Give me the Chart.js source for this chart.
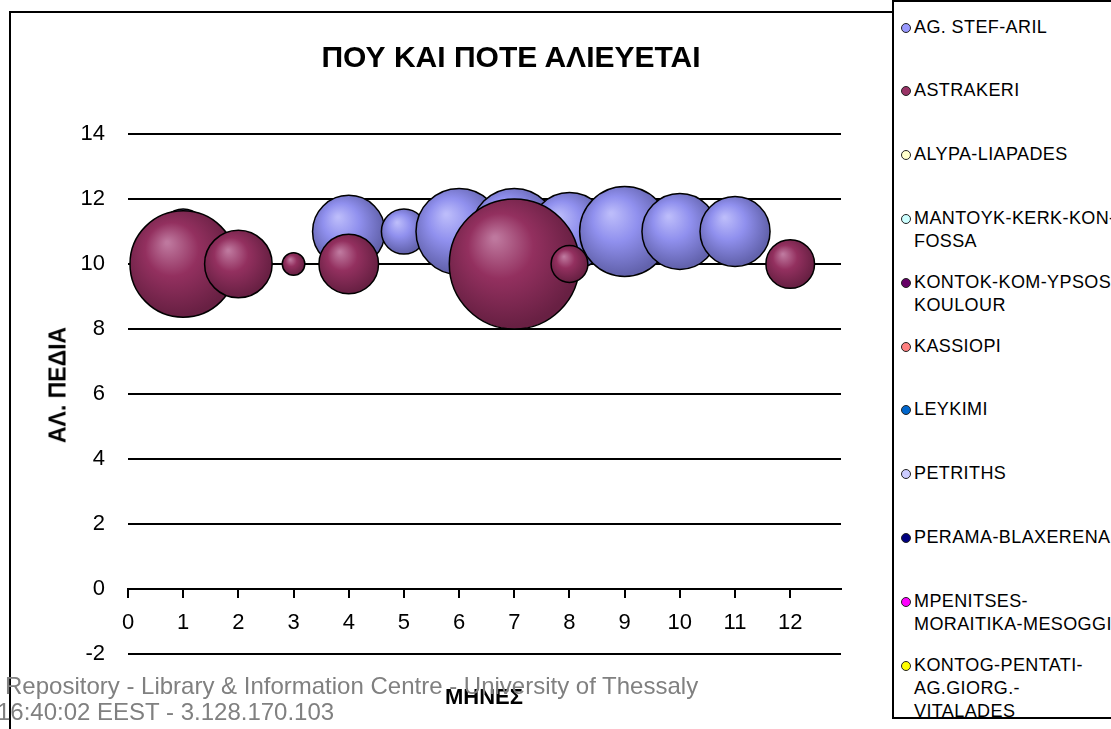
<!DOCTYPE html>
<html lang="el">
<head>
  <meta charset="UTF-8">
  <title>ΠΟΥ ΚΑΙ ΠΟΤΕ ΑΛΙΕΥΕΤΑΙ</title>
  <script src="https://cdn.jsdelivr.net/npm/chart.js"></script>
  <style>
    * {
      box-sizing: border-box;
    }

    body {
      margin: 0;
      width: 1111px;
      height: 729px;
      overflow: hidden;
      position: relative;
      background: #fff;
      font-family: 'Liberation Sans', Arial, sans-serif;
      color: #000;
    }

    #chart {
      position: absolute;
      left: 0;
      top: 0;
    }

    .frame {
      position: absolute;
      left: 9px;
      top: 11px;
      width: 900px;
      height: 740px;
      border-left: 2px solid #000;
      border-top: 2px solid #000;
    }

    .title {
      position: absolute;
      left: 0;
      width: 1022px;
      top: 40px;
      line-height: 34px;
      text-align: center;
      font-weight: bold;
      font-size: 30px;
      white-space: nowrap;
    }

    .y-title {
      position: absolute;
      left: 58px;
      top: 385px;
      transform: translate(-50%, -50%) rotate(-90deg);
      font-weight: bold;
      font-size: 23px;
      white-space: nowrap;
    }

    .x-title {
      position: absolute;
      left: 484px;
      top: 697px;
      transform: translate(-50%, -50%);
      font-weight: bold;
      font-size: 22px;
      white-space: nowrap;
    }

    .legend {
      position: absolute;
      left: 892px;
      top: 0;
      width: 240px;
      height: 719px;
      border: 2px solid #000;
      background: #fff;
      overflow: hidden;
    }

    .legend-item {
      position: absolute;
      left: 7px;
      font-size: 18px;
      letter-spacing: 0.4px;
      line-height: 23px;
      white-space: nowrap;
    }

    .legend-item .dot {
      position: absolute;
      left: 0;
      top: 7px;
      width: 10px;
      height: 10px;
      border-radius: 50%;
      border: 1.5px solid #222;
    }

    .legend-item .txt {
      padding-left: 13px;
    }

    .watermark {
      position: absolute;
      font-size: 24px;
      color: #808080;
      white-space: nowrap;
      line-height: 26px;
    }
  </style>
</head>
<body>
  <div class="frame"></div>
  <canvas id="chart" width="1111" height="729"></canvas>
  <div class="title">ΠΟΥ ΚΑΙ ΠΟΤΕ ΑΛΙΕΥΕΤΑΙ</div>
  <div class="y-title">ΑΛ. ΠΕΔΙΑ</div>
  <div class="x-title">ΜΗΝΕΣ</div>
  <div class="legend" id="legend"></div>
  <div class="watermark" style="left:5px; top:673px;">Repository - Library &amp; Information Centre - University of Thessaly</div>
  <div class="watermark" style="left:-3px; top:699px;">16:40:02 EEST - 3.128.170.103</div>

  <script>
    // series names as shown in the legend (line breaks as in the original)
    const seriesNames = [
      ['AG. STEF-ARIL'],
      ['ASTRAKERI'],
      ['ALYPA-LIAPADES'],
      ['MANTOYK-KERK-KON-', 'FOSSA'],
      ['KONTOK-KOM-YPSOS-', 'KOULOUR'],
      ['KASSIOPI'],
      ['LEYKIMI'],
      ['PETRITHS'],
      ['PERAMA-BLAXERENA'],
      ['MPENITSES-', 'MORAITIKA-MESOGGI'],
      ['KONTOG-PENTATI-', 'AG.GIORG.-', 'VITALADES']
    ];
    const seriesColors = ['#9999FF', '#993366', '#FFFFCC', '#CCFFFF', '#660066', '#FF8080',
                          '#0066CC', '#CCCCFF', '#000080', '#FF00FF', '#FFFF00'];

    // AG. STEF-ARIL (fishing field 11)
    const stefMonths = [1, 4, 5, 6, 7, 8, 9, 10, 11];
    const stefField = [11, 11, 11, 11, 11, 11, 11, 11, 11];
    const stefSize = [12, 31, 12, 44, 44, 36, 48, 34, 29];

    // ASTRAKERI (fishing field 10)
    const astrMonths = [1, 2, 3, 4, 7, 8, 12];
    const astrField = [10, 10, 10, 10, 10, 10, 10];
    const astrSize = [67, 27, 3, 21, 100, 8, 14];

    const xTicksMax = 12;
    const xMax = 12.92;
    const yMin = -2;
    const yMax = 14;

    const maxBubble = 65;
    const biggest = Math.max(...stefSize, ...astrSize);

    function bubbles(months, field, size) {
      return months.map((m, i) => ({
        x: m,
        y: field[i],
        r: maxBubble * Math.sqrt(size[i] / biggest)
      }));
    }

    function shade(light, mid, dark) {
      return function (c) {
        const chart = c.chart;
        if (c.type !== 'data' || !chart.chartArea || !c.raw) return mid;
        const x = chart.scales.x.getPixelForValue(c.raw.x);
        const y = chart.scales.y.getPixelForValue(c.raw.y);
        const r = c.raw.r;
        const g = chart.ctx.createRadialGradient(x - r * 0.3, y - r * 0.4, r * 0.03, x - r * 0.1, y - r * 0.12, r * 1.08);
        g.addColorStop(0, light);
        g.addColorStop(0.45, mid);
        g.addColorStop(1, dark);
        return g;
      };
    }

    const datasets = seriesNames.map((name, i) => ({
      label: name.join(' '),
      data: [],
      backgroundColor: seriesColors[i],
      borderColor: '#000',
      borderWidth: 1.5,
      order: 5 + i
    }));

    datasets[0].data = bubbles(stefMonths, stefField, stefSize);
    datasets[0].backgroundColor = shade('#BCBCFA', '#9090EE', '#6262AC');
    datasets[0].order = 2;

    datasets[1].data = bubbles(astrMonths, astrField, astrSize);
    datasets[1].backgroundColor = shade('#BE789E', '#93305F', '#682043');
    datasets[1].order = 1;

    const tickFont = { family: "'Liberation Sans', Arial, sans-serif", size: 22 };

    const chart = new Chart(document.getElementById('chart').getContext('2d'), {
      type: 'bubble',
      data: { datasets: datasets },
      options: {
        responsive: false,
        animation: false,
        devicePixelRatio: 1,
        layout: { padding: { left: 0, top: 134, right: 270, bottom: 75 } },
        plugins: {
          legend: { display: false },
          title: { display: false },
          tooltip: { enabled: false }
        },
        scales: {
          x: {
            type: 'linear',
            position: { y: 0 },
            min: 0,
            max: xMax,
            afterBuildTicks: s => { s.ticks = s.ticks.filter(t => t.value <= xTicksMax); },
            ticks: { stepSize: 1, includeBounds: false, autoSkip: false, maxRotation: 0, color: '#000', font: tickFont, padding: 13 },
            grid: { drawOnChartArea: false, drawTicks: true, tickLength: 8, color: '#000', lineWidth: 2 },
            border: { display: true, color: '#000', width: 2 }
          },
          y: {
            min: yMin,
            max: yMax,
            afterFit: s => { s.width = 128; },
            ticks: { stepSize: 2, color: '#000', font: tickFont, padding: 23 },
            grid: { color: '#000', lineWidth: 2, drawTicks: false },
            border: { display: false }
          }
        }
      }
    });

    // legend built from the datasets
    const legend = document.getElementById('legend');
    seriesNames.forEach((lines, i) => {
      const item = document.createElement('div');
      item.className = 'legend-item';
      item.style.top = (25 + 63.8 * i - 11.5) + 'px';
      item.innerHTML = '<span class="dot" style="background:' + seriesColors[i] + '"></span>' +
        '<div class="txt">' + lines.join('<br>') + '</div>';
      legend.appendChild(item);
    });
  </script>
</body>
</html>
